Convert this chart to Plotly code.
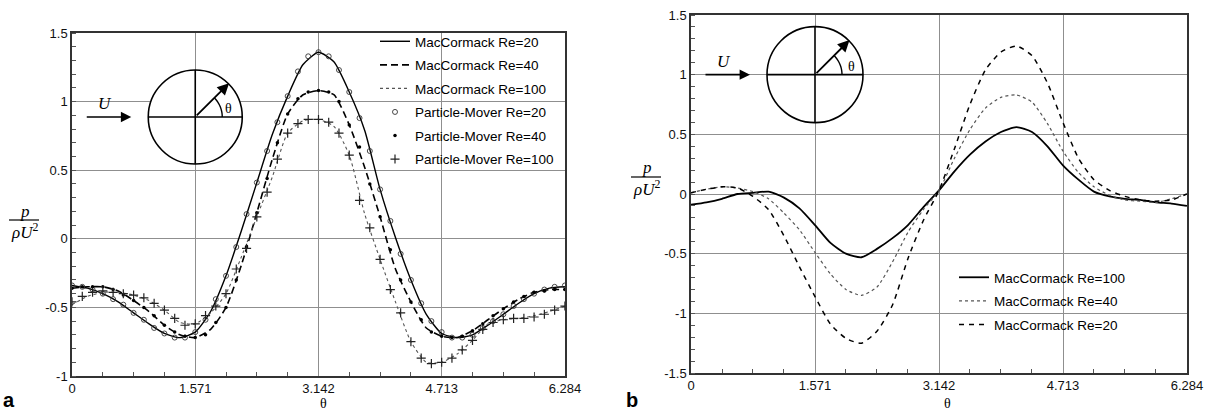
import plotly.graph_objects as go
import numpy as np

# ---------------- data ----------------
theta = [0.000, 0.196, 0.393, 0.589, 0.785, 0.982, 1.178, 1.374, 1.571, 1.767, 1.963,
         2.160, 2.356, 2.553, 2.749, 2.945, 3.142, 3.338, 3.534, 3.731, 3.927, 4.123,
         4.320, 4.516, 4.712, 4.909, 5.105, 5.301, 5.498, 5.694, 5.890, 6.087, 6.283]

# panel a : MacCormack lines
a_mc20 = [-0.34, -0.36, -0.40, -0.46, -0.54, -0.62, -0.69, -0.72, -0.68, -0.53, -0.27,
          0.06, 0.41, 0.76, 1.04, 1.27, 1.36, 1.29, 1.07, 0.79, 0.36, 0.01,
          -0.30, -0.55, -0.69, -0.72, -0.70, -0.63, -0.55, -0.47, -0.40, -0.36, -0.35]
a_mc40 = [-0.36, -0.35, -0.35, -0.38, -0.45, -0.53, -0.63, -0.70, -0.72, -0.66, -0.50,
          -0.19, 0.19, 0.58, 0.91, 1.05, 1.08, 1.05, 0.83, 0.52, 0.16, -0.22,
          -0.46, -0.65, -0.71, -0.72, -0.67, -0.59, -0.51, -0.44, -0.39, -0.37, -0.37]
a_mc100 = [-0.48, -0.42, -0.39, -0.39, -0.41, -0.45, -0.52, -0.61, -0.62, -0.54, -0.40,
           -0.13, 0.16, 0.45, 0.77, 0.86, 0.87, 0.82, 0.61, 0.18, -0.15, -0.46,
           -0.75, -0.90, -0.90, -0.84, -0.74, -0.62, -0.59, -0.58, -0.56, -0.53, -0.49]

# panel a : Particle-Mover markers
theta_m = [0.000, 0.131, 0.262, 0.393, 0.524, 0.654, 0.785, 0.916, 1.047, 1.178, 1.309,
           1.440, 1.571, 1.702, 1.833, 1.963, 2.094, 2.225, 2.356, 2.487, 2.618, 2.749,
           2.880, 3.011, 3.142, 3.272, 3.403, 3.534, 3.665, 3.796, 3.927, 4.058, 4.189,
           4.320, 4.451, 4.581, 4.712, 4.843, 4.974, 5.105, 5.236, 5.367, 5.498, 5.629,
           5.760, 5.890, 6.021, 6.152, 6.283]
a_pm20 = [-0.34, -0.35, -0.37, -0.40, -0.44, -0.48, -0.54, -0.59, -0.65, -0.69, -0.72,
          -0.72, -0.68, -0.59, -0.44, -0.27, -0.06, 0.18, 0.41, 0.64, 0.85, 1.04,
          1.22, 1.33, 1.36, 1.33, 1.23, 1.07, 0.88, 0.64, 0.36, 0.13, -0.11,
          -0.30, -0.47, -0.60, -0.68, -0.72, -0.72, -0.70, -0.65, -0.60, -0.55, -0.49,
          -0.44, -0.40, -0.37, -0.35, -0.34]
a_pm40 = [-0.36, -0.35, -0.35, -0.35, -0.37, -0.41, -0.45, -0.50, -0.56, -0.63, -0.68,
          -0.71, -0.72, -0.70, -0.61, -0.50, -0.30, -0.06, 0.19, 0.44, 0.70, 0.91,
          1.02, 1.07, 1.08, 1.07, 1.00, 0.83, 0.67, 0.40, 0.16, -0.08, -0.30,
          -0.46, -0.59, -0.68, -0.71, -0.72, -0.71, -0.67, -0.62, -0.56, -0.51, -0.46,
          -0.42, -0.39, -0.38, -0.37, -0.37]
a_pm100 = [-0.46, -0.42, -0.39, -0.38, -0.39, -0.40, -0.41, -0.43, -0.47, -0.52, -0.58,
           -0.63, -0.62, -0.56, -0.49, -0.40, -0.22, -0.07, 0.16, 0.34, 0.58, 0.77,
           0.84, 0.87, 0.87, 0.85, 0.77, 0.61, 0.28, 0.08, -0.15, -0.37, -0.54,
           -0.75, -0.87, -0.91, -0.90, -0.87, -0.81, -0.74, -0.66, -0.61, -0.59, -0.58,
           -0.58, -0.57, -0.55, -0.52, -0.49]

# panel b : MacCormack lines
b_mc100 = [-0.09, -0.07, -0.04, 0.00, 0.01, 0.02, -0.03, -0.12, -0.26, -0.41, -0.50,
           -0.53, -0.46, -0.37, -0.26, -0.11, 0.03, 0.19, 0.33, 0.44, 0.52, 0.56,
           0.52, 0.40, 0.24, 0.12, 0.02, -0.02, -0.04, -0.05, -0.07, -0.08, -0.10]
b_mc40 = [0.01, 0.04, 0.06, 0.05, 0.02, -0.04, -0.16, -0.30, -0.49, -0.67, -0.80,
          -0.85, -0.78, -0.57, -0.32, -0.13, 0.03, 0.30, 0.54, 0.72, 0.81, 0.83,
          0.77, 0.59, 0.36, 0.18, 0.06, -0.01, -0.05, -0.06, -0.07, -0.04, 0.00]
b_mc20 = [0.01, 0.04, 0.06, 0.05, -0.02, -0.13, -0.35, -0.61, -0.86, -1.09, -1.21,
          -1.25, -1.15, -0.93, -0.54, -0.22, 0.03, 0.38, 0.75, 1.04, 1.19, 1.24,
          1.16, 0.93, 0.60, 0.30, 0.12, 0.03, -0.02, -0.05, -0.06, -0.05, 0.00]

x_tickvals = [0, 1.571, 3.142, 4.713, 6.284]
x_ticktext = ["0", "1.571", "3.142", "4.713", "6.284"]
a_ytickvals = [-1, -0.5, 0, 0.5, 1, 1.5]
a_yticktext = ["-1", "-0.5", "0", "0.5", "1", "1.5"]
b_ytickvals = [-1.5, -1, -0.5, 0, 0.5, 1, 1.5]
b_yticktext = ["-1.5", "-1", "-0.5", "0", "0.5", "1", "1.5"]

# ---------------- layout geometry ----------------
W, H = 1219, 410
def px(x):
    return x / W
def py(y):
    return 1 - y / H

A_X, A_Y = (72, 565), (33, 376)
B_X, B_Y = (691, 1187), (15, 373)

SANS = "Liberation Sans, Arial, sans-serif"
SERIF = "Liberation Serif, Times New Roman, serif"
GRID = "#8f8f8f"

fig = go.Figure()

def add(x, y, name, leg, xa, ya, **kw):
    fig.add_trace(go.Scatter(x=x, y=y, name=name, legend=leg, legendgroup=leg + name,
                             xaxis=xa, yaxis=ya, **kw))

# ---- panel a traces
add(theta, a_mc20, "MacCormack Re=20", "legend", "x", "y", mode="lines",
    line=dict(color="black", width=1.4, shape="spline", smoothing=0.6))
add(theta, a_mc40, "MacCormack Re=40", "legend", "x", "y", mode="lines",
    line=dict(color="black", width=1.6, dash="7px,4px", shape="spline", smoothing=0.6))
add(theta, a_mc100, "MacCormack Re=100", "legend", "x", "y", mode="lines",
    line=dict(color="#555555", width=1.1, dash="dot", shape="spline", smoothing=0.6))
add(theta_m, a_pm20, "Particle-Mover Re=20", "legend", "x", "y", mode="markers",
    marker=dict(symbol="circle-open", size=5, color="#333333", line=dict(width=0.9)))
add(theta_m, a_pm40, "Particle-Mover Re=40", "legend", "x", "y", mode="markers",
    marker=dict(symbol="circle", size=3.5, color="black"))
add(theta_m, a_pm100, "Particle-Mover Re=100", "legend", "x", "y", mode="markers",
    marker=dict(symbol="cross-thin-open", size=6.5, color="#222222",
                line=dict(width=1.2, color="#222222")))

# ---- panel b traces
add(theta, b_mc100, "MacCormack Re=100", "legend2", "x2", "y2", mode="lines",
    line=dict(color="black", width=1.8, shape="spline", smoothing=0.6))
add(theta, b_mc40, "MacCormack Re=40", "legend2", "x2", "y2", mode="lines",
    line=dict(color="#555555", width=1.2, dash="dot", shape="spline", smoothing=0.6))
add(theta, b_mc20, "MacCormack Re=20", "legend2", "x2", "y2", mode="lines",
    line=dict(color="black", width=1.5, dash="5px,5px", shape="spline", smoothing=0.6))

minor_x = [k * 0.3927 for k in range(1, 16) if k % 4 != 0]

def xaxis_common(domain, anchor):
    return dict(domain=domain, anchor=anchor, range=[0, 6.284], tickmode="array",
                tickvals=x_tickvals, ticktext=x_ticktext, showgrid=True, gridcolor=GRID,
                gridwidth=1, zeroline=False, showline=True, linecolor="#333333", linewidth=1.5,
                mirror=True, ticks="", automargin=False,
                tickfont=dict(family=SANS, size=13, color="#111111"),
                minor=dict(tickmode="array", tickvals=minor_x, ticks="inside", ticklen=4,
                           tickcolor="#555555", showgrid=False))

def yaxis_common(domain, anchor, rng, tv, tt):
    return dict(domain=domain, anchor=anchor, range=rng, tickmode="array", tickvals=tv,
                ticktext=tt, showgrid=True, gridcolor=GRID, gridwidth=1, zeroline=False,
                showline=True, linecolor="#333333", linewidth=1.5, mirror=True, ticks="",
                automargin=False, tickfont=dict(family=SANS, size=13, color="#111111"),
                minor=dict(dtick=0.1, tick0=0, ticks="inside", ticklen=4, tickcolor="#555555",
                           showgrid=False))

shapes = []
annotations = []

# white boxes behind the legends (hide grid lines, not curves)
for (x0, x1, y0, y1) in [(375, 564, 34, 170), (954, 1124, 263, 337)]:
    shapes.append(dict(type="rect", xref="paper", yref="paper", x0=px(x0), x1=px(x1),
                       y0=py(y1), y1=py(y0), fillcolor="white", line=dict(width=0),
                       layer="between"))

def inset(xr, yr, cx, cy, r, label_dx):
    common = dict(xref=xr, yref=yr, xsizemode="pixel", ysizemode="pixel",
                  xanchor=cx, yanchor=cy, layer="above")
    shapes.append(dict(type="circle", x0=-r, x1=r, y0=-r, y1=r,
                       line=dict(color="black", width=1.6), fillcolor="white", **common))
    shapes.append(dict(type="line", x0=-r, x1=r, y0=0, y1=0,
                       line=dict(color="black", width=1.6), **common))
    shapes.append(dict(type="line", x0=0, x1=0, y0=-r, y1=r,
                       line=dict(color="black", width=1.6), **common))
    ang = np.linspace(0, np.pi / 4, 12)
    ra = 27
    path = "M " + " L ".join(f"{ra*np.cos(a):.2f},{ra*np.sin(a):.2f}" for a in ang)
    shapes.append(dict(type="path", path=path, line=dict(color="black", width=1.4), **common))
    d = r * 0.72
    annotations.append(dict(x=cx, y=cy, xref=xr, yref=yr, xshift=d, yshift=d, ax=-d, ay=d,
                            text="", showarrow=True, arrowhead=2, arrowsize=1.3,
                            arrowwidth=1.8, arrowcolor="black"))
    annotations.append(dict(x=cx, y=cy, xref=xr, yref=yr, xshift=-(r + 17), ax=-46, ay=0,
                            text="", showarrow=True, arrowhead=2, arrowsize=1.3,
                            arrowwidth=1.6, arrowcolor="black"))
    annotations.append(dict(x=cx, y=cy, xref=xr, yref=yr, xshift=-(r + 43), yshift=13,
                            text="<i>U</i>", showarrow=False,
                            font=dict(family=SERIF, size=17, color="black")))
    annotations.append(dict(x=cx, y=cy, xref=xr, yref=yr, xshift=label_dx, yshift=8,
                            text="θ", showarrow=False,
                            font=dict(family=SERIF, size=14, color="black")))

inset("x", "y", 1.571, 0.888, 47, 33)
inset("x2", "y2", 1.571, 1.0, 48, 36)

def ptext(xc, yc, text, font):
    annotations.append(dict(x=px(xc), y=py(yc), xref="paper", yref="paper", text=text,
                            xanchor="center", yanchor="middle", showarrow=False, font=font))

# fraction labels and panel letters
for xc, yl in [(24, 220), (646, 177)]:
    shapes.append(dict(type="line", xref="paper", yref="paper", x0=px(xc - 15), x1=px(xc + 15),
                       y0=py(yl), y1=py(yl), line=dict(color="black", width=1.2)))
    ptext(xc + 1, yl - 9, "<i>p</i>", dict(family=SERIF, size=17, color="black"))
    ptext(xc, yl + 11, "<i>ρU</i><sup>2</sup>", dict(family=SERIF, size=17, color="black"))

for xc in (323, 947):
    ptext(xc, 403, "θ", dict(family=SERIF, size=14, color="black"))
for xc, txt in [(9, "a"), (632, "b")]:
    ptext(xc, 400, f"<b>{txt}</b>", dict(family=SANS, size=20, color="black"))

leg_common = dict(xanchor="left", yanchor="top", bgcolor="rgba(0,0,0,0)", borderwidth=0,
                  font=dict(family=SANS, size=13.5, color="black"),
                  tracegroupgap=3, itemwidth=30, traceorder="grouped")

fig.update_layout(
    width=W, height=H, margin=dict(l=0, r=0, t=0, b=0, autoexpand=False),
    paper_bgcolor="white", plot_bgcolor="white",
    xaxis=xaxis_common([px(A_X[0]), px(A_X[1])], "y"),
    yaxis=yaxis_common([py(A_Y[1]), py(A_Y[0])], "x", [-1, 1.5], a_ytickvals, a_yticktext),
    xaxis2=xaxis_common([px(B_X[0]), px(B_X[1])], "y2"),
    yaxis2=yaxis_common([py(B_Y[1]), py(B_Y[0])], "x2", [-1.5, 1.5], b_ytickvals, b_yticktext),
    legend=dict(x=px(375), y=py(26), **leg_common),
    legend2=dict(x=px(954), y=py(262), **leg_common),
    shapes=shapes, annotations=annotations, showlegend=True,
)

fig.write_html("out.html", config={"displayModeBar": False},
               post_script="document.body.style.margin='0';")
